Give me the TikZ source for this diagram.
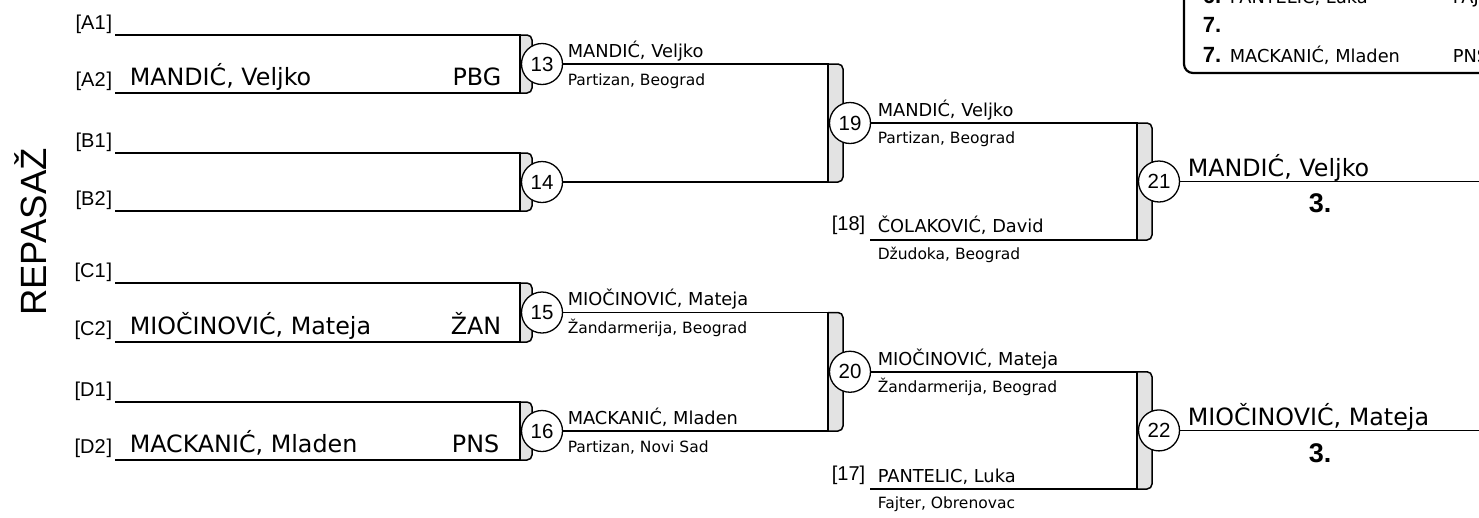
\documentclass[tikz,border=0pt]{standalone}
\usepackage{fontspec}
\setmainfont{DejaVu Sans}
\newfontfamily\arialfont{Liberation Sans}
\usetikzlibrary{positioning, calc}
\definecolor{tabgray}{HTML}{E3E3E3}

\begin{document}
\begin{tikzpicture}[x=1pt, y=-1pt, line width=1.5pt,
    every node/.style={inner sep=0pt},
    bout/.style={circle, draw, fill=white, line width=1.3pt, minimum size=41pt,
        font=\arialfont\fontsize{20.5}{20.5}\selectfont},
    tab/.style={draw, fill=tabgray, rounded corners=5pt},
    slot/.style={anchor=base east, font=\arialfont\fontsize{20}{20}\selectfont},
    entrant/.style={anchor=base west, font=\fontsize{23.8}{24}\selectfont},
    clubcode/.style={anchor=base east, font=\fontsize{23.8}{24}\selectfont},
    athlete/.style={anchor=base west, font=\fontsize{17.8}{18}\selectfont},
    club/.style={anchor=base west, font=\fontsize{15.5}{16}\selectfont},
    seed/.style={anchor=base east, font=\arialfont\fontsize{20}{20}\selectfont},
    medal/.style={anchor=base, font=\arialfont\bfseries\fontsize{27}{27}\selectfont},
    rankno/.style={anchor=base west, font=\arialfont\bfseries\fontsize{22}{22}\selectfont}]

\useasboundingbox (0,0) rectangle (1479,517);
\clip (0,0) rectangle (1479,517);

\node[rotate=90, font=\arialfont\fontsize{36.5}{37}\selectfont] (title) at (31,232) {REPASAŽ};

\draw[line width=2.2pt, rounded corners=9pt] (1184,-40) -- (1184,73) -- (1560,73);
\node[rankno] (r6) at (1202,3) {6.};
\node[athlete] (r6name) at (1229,3) {PANTELIC, Luka};
\node[athlete] (r6club) at (1452,3) {FAJ};
\node[rankno] (r7a) at (1202,32) {7.};
\node[rankno] (r7b) at (1202,62) {7.};
\node[athlete] (r7name) at (1229,62) {MACKANIĆ, Mladen};
\node[athlete] (r7club) at (1452,62) {PNS};

\coordinate (a1) at (115,35);
\coordinate (a2) at (115,93);
\coordinate (b1) at (115,153);
\coordinate (b2) at (115,211);
\coordinate (c1) at (115,283);
\coordinate (c2) at (115,342);
\coordinate (d1) at (115,402);
\coordinate (d2) at (115,460);

\coordinate (t13a) at (520,35);
\coordinate (t13b) at (520,93);
\coordinate (t14a) at (520,153);
\coordinate (t14b) at (520,211);
\coordinate (t15a) at (520,283);
\coordinate (t15b) at (520,342);
\coordinate (t16a) at (520,402);
\coordinate (t16b) at (520,460);
\coordinate (t19a) at (828,64);
\coordinate (t19b) at (828,182);
\coordinate (t20a) at (828,312.5);
\coordinate (t20b) at (828,431);
\coordinate (t21a) at (1137,123);
\coordinate (t21b) at (1137,240);
\coordinate (t22a) at (1137,371.75);
\coordinate (t22b) at (1137,489);

\coordinate (s18) at (870,240);
\coordinate (s17) at (870,489);
\coordinate (f21) at (1479,181.5);
\coordinate (f22) at (1479,430.4);

\draw[tab] (t13a) -- ++(12,0) |- (t13b);
\draw[tab] (t14a) -- ++(12,0) |- (t14b);
\draw[tab] (t15a) -- ++(12,0) |- (t15b);
\draw[tab] (t16a) -- ++(12,0) |- (t16b);
\draw[tab] (t19a) -- ++(15,0) |- (t19b);
\draw[tab] (t20a) -- ++(15,0) |- (t20b);
\draw[tab] (t21a) -- ++(15,0) |- (t21b);
\draw[tab] (t22a) -- ++(15,0) |- (t22b);

\draw (a1) -- (t13a) -- (t13b) -- (a2);
\draw (b1) -- (t14a) -- (t14b) -- (b2);
\draw (c1) -- (t15a) -- (t15b) -- (c2);
\draw (d1) -- (t16a) -- (t16b) -- (d2);

\node[bout] (m13) at (542,64) {13};
\node[bout] (m14) at (542,182) {14};
\node[bout] (m15) at (542,312.5) {15};
\node[bout] (m16) at (542,431) {16};

\draw (m13) -- (t19a) -- (t19b) -- (m14);
\draw (m15) -- (t20a) -- (t20b) -- (m16);

\node[bout] (m19) at (850,123) {19};
\node[bout] (m20) at (850,371.75) {20};

\draw (m19) -- (t21a) -- (t21b) -- (s18);
\draw (m20) -- (t22a) -- (t22b) -- (s17);

\node[bout] (m21) at (1159,181.5) {21};
\node[bout] (m22) at (1159,430.4) {22};

\draw (m21) -- (f21);
\draw (m22) -- (f22);

\node[slot] (la1) at (113,29) {[A1\kern1pt]};
\node[slot] (la2) at (113,86) {[A2\kern1pt]};
\node[slot] (lb1) at (113,147) {[B1\kern1pt]};
\node[slot] (lb2) at (113,205) {[B2\kern1pt]};
\node[slot] (lc1) at (113,277) {[C1\kern1pt]};
\node[slot] (lc2) at (113,335) {[C2\kern1pt]};
\node[slot] (ld1) at (113,396) {[D1\kern1pt]};
\node[slot] (ld2) at (113,453) {[D2\kern1pt]};

\node[entrant] (na2) at (129,85) {MANDIĆ, Veljko};
\node[clubcode] (ka2) at (502,85) {PBG};
\node[entrant] (nc2) at (129,334) {MIOČINOVIĆ, Mateja};
\node[clubcode] (kc2) at (502,334) {ŽAN};
\node[entrant] (nd2) at (129,452) {MACKANIĆ, Mladen};
\node[clubcode] (kd2) at (500,452) {PNS};

\node[athlete] (w13) at (567,57) {MANDIĆ, Veljko};
\node[club] (k13) at (567,85) {Partizan, Beograd};
\node[athlete] (w15) at (567,305) {MIOČINOVIĆ, Mateja};
\node[club] (k15) at (567,333) {Žandarmerija, Beograd};
\node[athlete] (w16) at (567,424) {MACKANIĆ, Mladen};
\node[club] (k16) at (567,452) {Partizan, Novi Sad};

\node[athlete] (w19) at (877,116) {MANDIĆ, Veljko};
\node[club] (k19) at (877,143) {Partizan, Beograd};
\node[seed] (l18) at (866,230) {[18]};
\node[athlete] (n18) at (877,232) {ČOLAKOVIĆ, David};
\node[club] (k18) at (877,259) {Džudoka, Beograd};
\node[athlete] (w20) at (877,365) {MIOČINOVIĆ, Mateja};
\node[club] (k20) at (877,392) {Žandarmerija, Beograd};
\node[seed] (l17) at (866,480) {[17]};
\node[athlete] (n17) at (877,482) {PANTELIC, Luka};
\node[club] (k17) at (877,508) {Fajter, Obrenovac};

\node[entrant] (w21) at (1187,176) {MANDIĆ, Veljko};
\node[medal] (p21) at (1320,212) {3.};
\node[entrant] (w22) at (1187,425) {MIOČINOVIĆ, Mateja};
\node[medal] (p22) at (1320,462) {3.};
\end{tikzpicture}
\end{document}
